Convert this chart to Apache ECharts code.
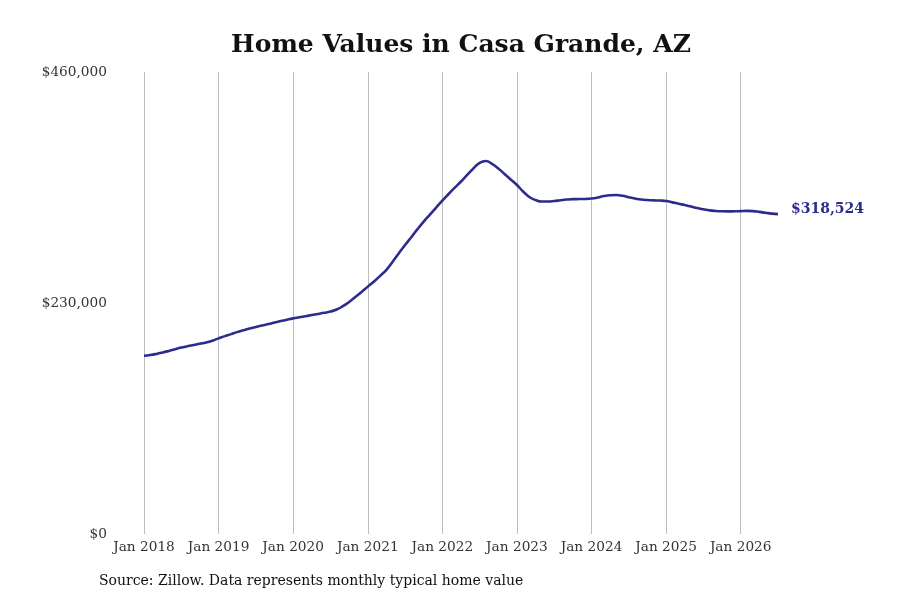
<!DOCTYPE html>
<html>
<head>
<meta charset="utf-8">
<script src="https://cdn.jsdelivr.net/npm/echarts@6/dist/echarts.min.js"></script>
<style>
  html, body { margin: 0; padding: 0; background: #fff; }
  #chart { width: 900px; height: 600px; }
</style>
</head>
<body>
<div id="chart"></div>
<script>
// 年份和月份，用来拼出 "Jan 2018" 这样的类目
const years = [2018, 2019, 2020, 2021, 2022, 2023, 2024, 2025, 2026];
const monthNames = ['Jan', 'Feb', 'Mar', 'Apr', 'May', 'Jun', 'Jul', 'Aug', 'Sep', 'Oct', 'Nov', 'Dec'];
// 每月典型房价 (Jan 2018 - Jul 2026)
const homeValues = [
    177500, 178200, 179300, 180700, 182300, 184000, 185600, 187000, 188200, 189400, 190700, 192500,
    194800, 197000, 199000, 201000, 202800, 204600, 206200, 207600, 209000, 210500, 212000, 213400,
    214700, 215800, 216900, 218000, 219100, 220200, 221500, 223500, 226800, 231000, 236000, 241000,
    246300, 251500, 257000, 263000, 271000, 279500, 287700, 295500, 303500, 311000, 318000, 325000,
    332000, 338500, 344800, 351000, 357500, 364000, 369500, 371400, 368500, 364000, 358500, 353000,
    347500, 341000, 335500, 332500, 331000, 331000, 331500, 332300, 333000, 333400, 333500, 333600,
    334000, 335000, 336500, 337300, 337500, 336700, 335200, 334000, 333000, 332500, 332200, 332000,
    331500, 330200, 328800, 327500, 326000, 324500, 323300, 322200, 321600, 321300, 321200, 321300,
    321500, 321700, 321500, 320700, 319800, 319000, 318524
];

let categories = [];
for (let i = 0; i < homeValues.length; i++) {
    categories.push(monthNames[i % 12] + ' ' + years[Math.floor(i / 12)]);
}

const lineColor = '#2e2c8a';
const serif = '"DejaVu Serif", serif';

var myChart = echarts.init(document.getElementById('chart'));
option = {
    backgroundColor: '#ffffff',
    animation: false,
    title: {
        text: 'Home Values in Casa Grande, AZ',
        left: 456,
        top: 28,
        textAlign: 'center',
        textStyle: {
            fontFamily: serif,
            fontSize: 25,
            fontWeight: 'bold',
            color: '#111111'
        }
    },
    grid: {
        left: 144,
        right: 122,
        top: 72,
        bottom: 66
    },
    xAxis: {
        type: 'category',
        data: categories,
        boundaryGap: false,
        axisLine: { show: false },
        axisTick: { show: false },
        axisLabel: {
            interval: 11,
            margin: 6,
            fontFamily: serif,
            fontSize: 13.7,
            color: '#333333'
        },
        splitLine: {
            show: true,
            interval: 11,
            lineStyle: { color: '#bdbdbd', width: 1 }
        }
    },
    yAxis: {
        type: 'value',
        min: 0,
        max: 460000,
        interval: 230000,
        axisLine: { show: false },
        axisTick: { show: false },
        splitLine: { show: false },
        axisLabel: {
            margin: 37,
            fontFamily: serif,
            fontSize: 13.7,
            color: '#333333',
            formatter: function (value) {
                return '$' + value.toLocaleString('en-US');
            }
        }
    },
    series: [
        {
            type: 'line',
            data: homeValues,
            smooth: true,
            symbol: 'none',
            lineStyle: { color: lineColor, width: 2.6 },
            endLabel: {
                show: true,
                distance: 13,
                offset: [0, -5],
                fontFamily: serif,
                fontSize: 14,
                fontWeight: 'bold',
                color: lineColor,
                formatter: function (params) {
                    return '$' + params.value.toLocaleString('en-US');
                }
            }
        }
    ],
    graphic: [
        {
            type: 'text',
            left: 99,
            top: 574,
            style: {
                text: 'Source: Zillow. Data represents monthly typical home value',
                font: '14px "DejaVu Serif", serif',
                fill: '#111111'
            }
        }
    ]
};
myChart.setOption(option);
</script>
</body>
</html>
